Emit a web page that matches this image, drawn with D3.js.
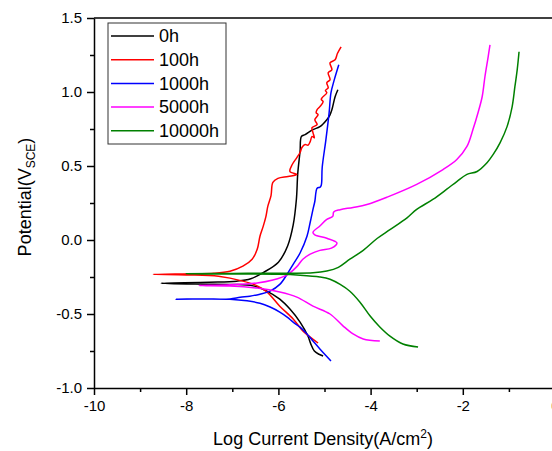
<!DOCTYPE html>
<html>
<head>
<meta charset="utf-8">
<script src="https://cdn.jsdelivr.net/npm/d3@7/dist/d3.min.js"></script>
<style>
    body { margin: 0; background: #fff; }
    text { font-family: Arial, "Liberation Sans", sans-serif; fill: #000; }
    .axis path, .axis line { stroke: #000; stroke-width: 1.5; }
    .curve { fill: none; stroke-width: 1.5; stroke-linejoin: round; }
</style>
</head>
<body>
<div id="chart"></div>
<script>
// --- data: [log i (A/cm2), E (V vs SCE)], cathodic end -> Ecorr -> anodic end
const seriesNames = ["0h", "100h", "1000h", "5000h", "10000h"];

const curve0h = [
    [-5.03, -0.784], [-5.12, -0.772], [-5.22, -0.75], [-5.30, -0.70], [-5.36, -0.649], [-5.53, -0.555],
    [-5.75, -0.467], [-5.97, -0.40], [-6.25, -0.345], [-6.55, -0.31], [-7.0, -0.30], [-7.8, -0.298],
    [-8.55, -0.292], [-7.5, -0.285], [-6.9, -0.278], [-6.6, -0.262], [-6.33, -0.22], [-6.0, -0.15],
    [-5.8, -0.04], [-5.68, 0.10], [-5.61, 0.274], [-5.58, 0.45], [-5.53, 0.60], [-5.50, 0.70],
    [-5.42, 0.712], [-5.25, 0.746], [-5.10, 0.766], [-4.95, 0.813], [-4.88, 0.846], [-4.84, 0.88],
    [-4.77, 0.968], [-4.71, 1.015]
];

const curve100h = [
    [-5.14, -0.696], [-5.31, -0.656], [-5.47, -0.615], [-5.68, -0.534], [-5.97, -0.447], [-6.25, -0.35],
    [-6.46, -0.31], [-6.77, -0.278], [-7.3, -0.245], [-8.0, -0.236], [-8.72, -0.232], [-7.8, -0.228],
    [-7.4, -0.225], [-7.05, -0.211], [-6.77, -0.177], [-6.57, -0.13], [-6.46, -0.063], [-6.40, 0.025],
    [-6.33, 0.092], [-6.27, 0.16], [-6.23, 0.227], [-6.16, 0.30], [-6.12, 0.389], [-6.01, 0.416],
    [-5.79, 0.429], [-5.60, 0.443], [-5.75, 0.463], [-5.70, 0.510], [-5.60, 0.557], [-5.53, 0.591],
    [-5.49, 0.625], [-5.42, 0.645], [-5.36, 0.64], [-5.31, 0.665], [-5.27, 0.70], [-5.22, 0.69],
    [-5.25, 0.726], [-5.27, 0.759], [-5.16, 0.780], [-5.21, 0.813], [-5.14, 0.847], [-5.18, 0.86],
    [-5.16, 0.881], [-5.10, 0.901], [-5.03, 0.935], [-5.07, 0.95], [-5.05, 0.962], [-4.95, 0.995],
    [-4.98, 1.01], [-4.92, 1.029], [-4.95, 1.063], [-4.88, 1.083], [-4.92, 1.130], [-4.84, 1.150],
    [-4.88, 1.197], [-4.77, 1.218], [-4.72, 1.26], [-4.64, 1.305]
];

const curve1000h = [
    [-4.86, -0.817], [-5.10, -0.736], [-5.25, -0.682], [-5.38, -0.635], [-5.53, -0.589], [-5.68, -0.555],
    [-5.81, -0.521], [-5.97, -0.487], [-6.18, -0.453], [-6.40, -0.427], [-6.68, -0.411], [-7.05, -0.40],
    [-7.6, -0.398], [-8.22, -0.40], [-7.6, -0.399], [-7.05, -0.398], [-6.83, -0.387], [-6.62, -0.38],
    [-6.40, -0.366], [-6.18, -0.345], [-5.97, -0.30], [-5.81, -0.231], [-5.68, -0.164], [-5.53, -0.088],
    [-5.38, 0.025], [-5.31, 0.12], [-5.25, 0.207], [-5.21, 0.26], [-5.16, 0.35], [-5.10, 0.356],
    [-5.07, 0.37], [-5.05, 0.49], [-4.97, 0.677], [-4.90, 0.859], [-4.86, 0.994], [-4.79, 1.08],
    [-4.69, 1.184]
];

const curve5000h = [
    [-3.80, -0.683], [-4.16, -0.669], [-4.38, -0.635], [-4.60, -0.58], [-4.88, -0.50], [-5.25, -0.447],
    [-5.60, -0.386], [-5.97, -0.352], [-6.46, -0.325], [-7.05, -0.31], [-7.72, -0.308], [-7.05, -0.303],
    [-6.46, -0.29], [-6.12, -0.27], [-5.81, -0.235], [-5.60, -0.18], [-5.47, -0.13], [-5.31, -0.096],
    [-5.10, -0.07], [-4.85, -0.055], [-4.73, -0.02], [-4.95, 0.012], [-5.21, 0.035], [-5.25, 0.052],
    [-5.10, 0.095], [-4.95, 0.14], [-4.82, 0.16], [-4.80, 0.19], [-4.66, 0.205], [-4.38, 0.22],
    [-4.08, 0.24], [-3.64, 0.29], [-3.0, 0.376], [-2.43, 0.476], [-2.13, 0.544], [-1.91, 0.632],
    [-1.78, 0.746], [-1.67, 0.86], [-1.58, 0.968], [-1.52, 1.103], [-1.45, 1.238], [-1.41, 1.319]
];

const curve10000h = [
    [-2.97, -0.723], [-3.30, -0.703], [-3.58, -0.65], [-3.80, -0.588], [-4.01, -0.514], [-4.23, -0.42],
    [-4.45, -0.346], [-4.66, -0.30], [-4.88, -0.265], [-5.10, -0.25], [-5.53, -0.238], [-6.0, -0.232],
    [-7.0, -0.23], [-8.0, -0.228], [-7.0, -0.226], [-6.0, -0.224], [-5.25, -0.222], [-4.95, -0.21],
    [-4.7, -0.185], [-4.45, -0.13], [-4.16, -0.07], [-3.86, 0.01], [-3.58, 0.07], [-3.21, 0.15],
    [-3.0, 0.207], [-2.65, 0.274], [-2.34, 0.345], [-2.13, 0.395], [-1.91, 0.443], [-1.69, 0.463],
    [-1.47, 0.524], [-1.34, 0.578], [-1.19, 0.658], [-1.04, 0.766], [-0.93, 0.90], [-0.87, 1.036],
    [-0.82, 1.15], [-0.78, 1.272]
];

const xTicks = [-10, -8, -6, -4, -2, 0];
const xMinorTicks = [-9, -7, -5, -3, -1];
const yTicks = [-1.0, -0.5, 0.0, 0.5, 1.0, 1.5];
const yMinorTicks = [-0.75, -0.25, 0.25, 0.75, 1.25];

const seriesColors = ["#000000", "#ff0000", "#0000ff", "#ff00ff", "#008000"];

class TafelPlot {
    constructor(parentElement, curves) {
        this.parentElement = parentElement;
        this.curves = curves;
        this.initVis();
    }

    initVis() {
        const vis = this;

        vis.width = 552;
        vis.height = 451;
        vis.margin = {top: 18, left: 94};
        vis.plotW = 461;
        vis.plotH = 370;

        vis.svg = d3.select("#" + vis.parentElement).append("svg")
            .attr("width", vis.width)
            .attr("height", vis.height);

        vis.g = vis.svg.append("g")
            .attr("transform", `translate(${vis.margin.left},${vis.margin.top})`);

        vis.x = d3.scaleLinear().domain([-10, 0]).range([0, vis.plotW]);
        vis.y = d3.scaleLinear().domain([-1, 1.5]).range([vis.plotH, 0]);

        vis.drawAxes();
        vis.drawCurves();
        vis.drawLegend();
    }

    drawAxes() {
        const vis = this;

        // minor ticks first, major axes on top
        vis.g.append("g").attr("class", "axis")
            .attr("transform", `translate(0,${vis.plotH})`)
            .call(d3.axisBottom(vis.x).tickValues(xMinorTicks).tickSize(4).tickFormat(""))
            .select(".domain").remove();
        vis.g.append("g").attr("class", "axis")
            .call(d3.axisLeft(vis.y).tickValues(yMinorTicks).tickSize(4).tickFormat(""))
            .select(".domain").remove();

        const xAxis = vis.g.append("g").attr("class", "axis")
            .attr("transform", `translate(0,${vis.plotH})`)
            .call(d3.axisBottom(vis.x).tickValues(xTicks).tickSize(7).tickSizeOuter(0)
                .tickPadding(5).tickFormat(d => String(d)));
        xAxis.selectAll("text").style("font-size", "15px");

        const yAxis = vis.g.append("g").attr("class", "axis")
            .call(d3.axisLeft(vis.y).tickValues(yTicks).tickSize(7).tickSizeOuter(0)
                .tickPadding(5).tickFormat(d => d.toFixed(1)));
        yAxis.selectAll("text").style("font-size", "15px");

        // top and right frame
        vis.g.append("line")
            .attr("x1", 0).attr("x2", vis.plotW).attr("y1", 0).attr("y2", 0)
            .attr("stroke", "#000").attr("stroke-width", 1.5);
        vis.g.append("line")
            .attr("x1", vis.plotW).attr("x2", vis.plotW).attr("y1", 0).attr("y2", vis.plotH)
            .attr("stroke", "#000").attr("stroke-width", 1.5);

        // axis titles
        const xt = vis.svg.append("text")
            .attr("x", 323).attr("y", 445)
            .attr("text-anchor", "middle")
            .style("font-size", "18px")
            .text("Log Current Density(A/cm");
        xt.append("tspan").attr("dy", -7).style("font-size", "12px").text("2");
        xt.append("tspan").attr("dy", 7).text(")");

        const yt = vis.svg.append("text")
            .attr("transform", "translate(31,197) rotate(-90)")
            .attr("text-anchor", "middle")
            .style("font-size", "18px")
            .text("Potential(V");
        yt.append("tspan").attr("dy", 4).style("font-size", "12px").text("SCE");
        yt.append("tspan").attr("dy", -4).text(")");
    }

    drawCurves() {
        const vis = this;

        const line = d3.line()
            .x(d => vis.x(d[0]))
            .y(d => vis.y(d[1]))
            .curve(d3.curveCatmullRom.alpha(0.5));

        vis.g.selectAll(".curve")
            .data(vis.curves)
            .enter().append("path")
            .attr("class", "curve")
            .attr("stroke", (d, i) => seriesColors[i])
            .attr("d", d => line(d));
    }

    drawLegend() {
        const vis = this;

        const legend = vis.svg.append("g").attr("transform", "translate(108,23)");

        legend.append("rect")
            .attr("width", 118).attr("height", 121)
            .attr("fill", "#fff")
            .attr("stroke", "#333").attr("stroke-width", 1);

        const rows = legend.selectAll(".legend-row")
            .data(seriesNames)
            .enter().append("g")
            .attr("class", "legend-row")
            .attr("transform", (d, i) => `translate(0,${13 + i * 23.7})`);

        rows.append("line")
            .attr("x1", 3).attr("x2", 46)
            .attr("stroke", (d, i) => seriesColors[i])
            .attr("stroke-width", 1.5);

        rows.append("text")
            .attr("x", 51).attr("dy", "0.35em")
            .style("font-size", "18px")
            .text(d => d);
    }
}

new TafelPlot("chart", [curve0h, curve100h, curve1000h, curve5000h, curve10000h]);
</script>
</body>
</html>
